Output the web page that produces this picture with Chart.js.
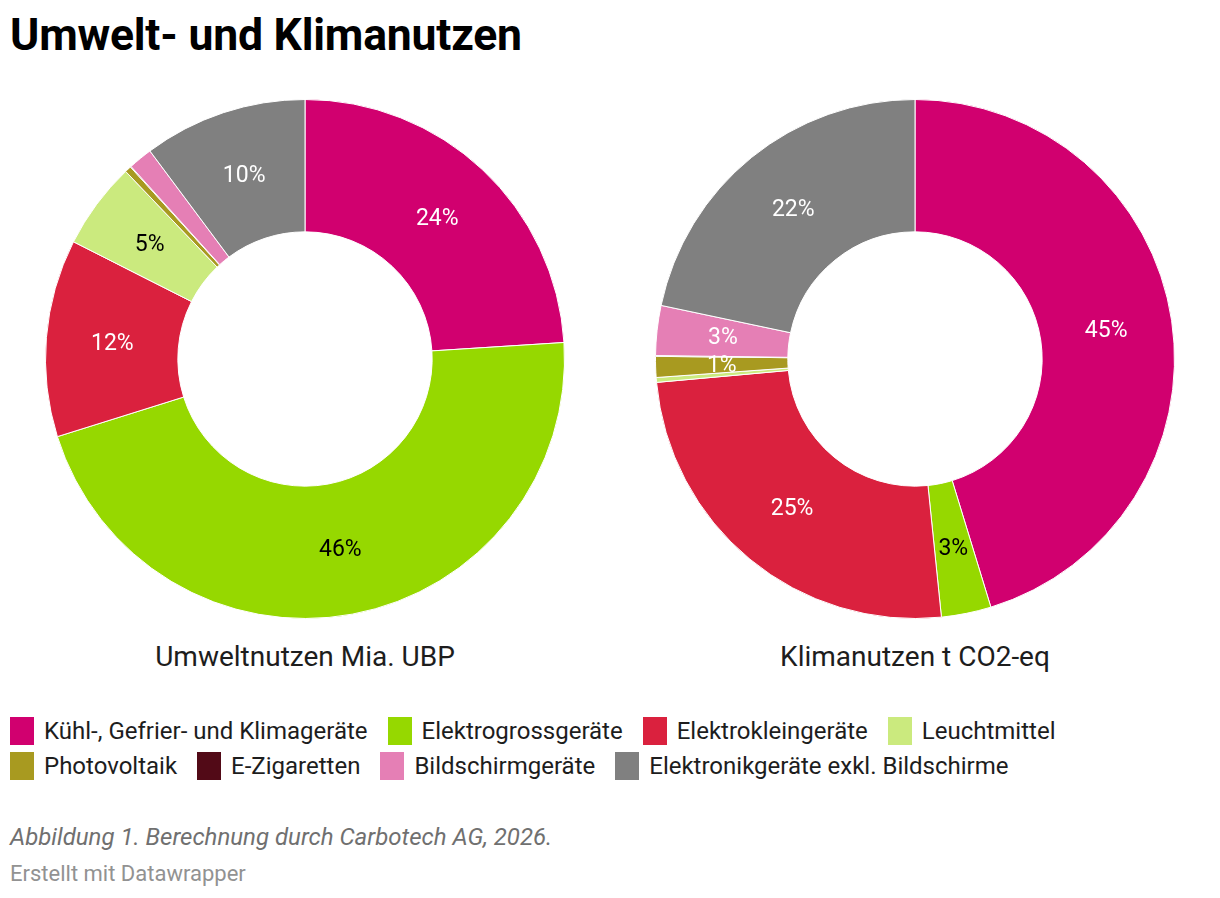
<!DOCTYPE html>
<html>
<head>
<meta charset="utf-8">
<script src="https://cdn.jsdelivr.net/npm/chart.js@4"></script>
<style>
    body { margin: 0; background: #fff; font-family: Roboto, sans-serif; color: #1d1d1d; }
    #page { position: relative; width: 1220px; height: 898px; overflow: hidden; }
    h1 { position: absolute; left: 10px; top: 8px; margin: 0; font-size: 44.5px; line-height: 54px; font-weight: 700; color: #000; letter-spacing: -0.2px; }
    .donut { position: absolute; top: 99px; width: 520px; height: 520px; }
    .sub { position: absolute; top: 640px; width: 520px; text-align: center; font-size: 28px; line-height: 34px; color: #1d1d1d; }
    #legend { position: absolute; left: 10px; top: 717px; width: 1100px; display: flex; flex-wrap: wrap; row-gap: 7px; }
    .item { display: flex; align-items: center; margin-right: 20px; font-size: 24px; height: 28px; }
    .sw { width: 24px; height: 28px; margin-right: 10px; }
    #note { position: absolute; left: 10px; top: 823px; font-size: 24px; line-height: 28px; font-style: italic; color: #707070; }
    #credit { position: absolute; left: 10px; top: 861px; font-size: 22px; line-height: 26px; color: #929292; }
</style>
</head>
<body>
<div id="page">
    <h1>Umwelt- und Klimanutzen</h1>
    <div class="donut" style="left:45px"><canvas id="umwelt" width="520" height="520"></canvas></div>
    <div class="donut" style="left:655px"><canvas id="klima" width="520" height="520"></canvas></div>
    <div class="sub" style="left:45px">Umweltnutzen Mia. UBP</div>
    <div class="sub" style="left:655px">Klimanutzen t CO2-eq</div>
    <div id="legend"></div>
    <div id="note">Abbildung 1. Berechnung durch Carbotech AG, 2026.</div>
    <div id="credit">Erstellt mit Datawrapper</div>
</div>
<script>
// Kategorien (Reihenfolge im Uhrzeigersinn ab 12 Uhr)
const categories = ['Kühl-, Gefrier- und Klimageräte', 'Elektrogrossgeräte', 'Elektrokleingeräte', 'Leuchtmittel',
    'Photovoltaik', 'E-Zigaretten', 'Bildschirmgeräte', 'Elektronikgeräte exkl. Bildschirme'];

// Anteile in % (aus der Grafik geschaetzt)
const umweltValues = [24.0, 46.2, 12.3, 5.4, 0.4, 0.05, 1.5, 10.2];
const klimaValues = [45.3, 3.1, 25.2, 0.3, 1.3, 0.05, 3.1, 21.7];

// angezeigte Beschriftungen ('' = keine)
const umweltLabels = ['24%', '46%', '12%', '5%', '', '', '', '10%'];
const klimaLabels = ['45%', '3%', '25%', '', '1%', '', '3%', '22%'];

const colors = ['#d1006f', '#96d800', '#da213e', '#cbea7e', '#a89a20', '#520a17', '#e57fb5', '#808080'];
const textColors = ['#fff', '#000', '#fff', '#000', '#fff', '#fff', '#fff', '#fff'];

// Beschriftung in der Mitte jedes Segments
const sliceLabels = {
    id: 'sliceLabels',
    afterDatasetsDraw(chart, args, opts) {
        const ctx = chart.ctx;
        const meta = chart.getDatasetMeta(0);
        ctx.save();
        ctx.font = '23px Roboto';
        ctx.textAlign = 'center';
        ctx.textBaseline = 'middle';
        meta.data.forEach(function(arc, i) {
            const txt = opts.labels[i];
            if (!txt) return;
            const pos = arc.tooltipPosition();
            ctx.fillStyle = textColors[i];
            ctx.fillText(txt, pos.x, pos.y + 1);
        });
        ctx.restore();
    }
};

function makeDonut(id, values, labels) {
    new Chart(document.getElementById(id), {
        type: 'doughnut',
        data: {
            labels: categories,
            datasets: [{
                data: values,
                backgroundColor: colors,
                borderColor: '#fff',
                borderWidth: 1,
                hoverOffset: 0
            }]
        },
        options: {
            responsive: false,
            animation: false,
            cutout: '49%',
            layout: { padding: 0 },
            plugins: {
                legend: { display: false },
                tooltip: { enabled: false },
                sliceLabels: { labels: labels }
            }
        },
        plugins: [sliceLabels]
    });
}

makeDonut('umwelt', umweltValues, umweltLabels);
makeDonut('klima', klimaValues, klimaLabels);

// Legende
const legend = document.getElementById('legend');
categories.forEach(function(name, i) {
    const item = document.createElement('div');
    item.className = 'item';
    item.innerHTML = '<span class="sw" style="background:' + colors[i] + '"></span><span>' + name + '</span>';
    legend.appendChild(item);
});
</script>
</body>
</html>
